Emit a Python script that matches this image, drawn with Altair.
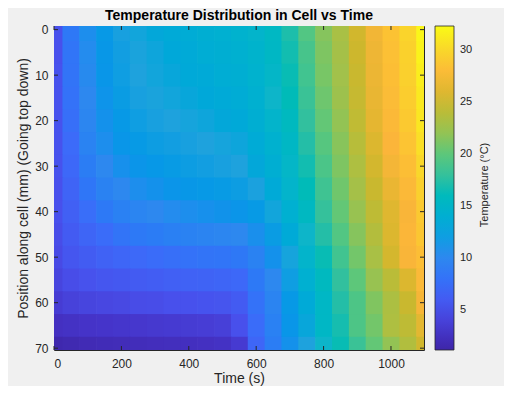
import altair as alt
import pandas as pd

# ---- data -----------------------------------------------------------------
times = [0, 50, 100, 150, 200, 250, 300, 350, 400, 450, 500, 550,
         600, 650, 700, 750, 800, 850, 900, 950, 1000, 1050, 1100]
positions = [0, 5, 10, 15, 20, 25, 30, 35, 40, 45, 50, 55, 60, 65, 70]

row_p00 = [5.0, 8.5, 10.5, 11.5, 12.3, 12.8, 13.1, 13.4, 13.7, 14.0, 14.2, 14.5, 14.8, 15.5, 17.0, 19.5, 21.5, 23.0, 25.2, 27.0, 28.5, 29.8, 32.0]
row_p05 = [5.0, 8.3, 10.3, 11.3, 12.1, 12.6, 12.9, 13.2, 13.5, 13.8, 14.0, 14.3, 14.7, 15.4, 16.7, 19.0, 21.2, 22.8, 25.0, 26.8, 28.3, 29.6, 31.8]
row_p10 = [5.2, 8.2, 10.2, 11.2, 12.0, 12.5, 12.8, 13.0, 13.3, 13.5, 13.8, 14.0, 14.5, 15.2, 16.5, 18.7, 21.0, 22.6, 24.8, 26.7, 28.2, 29.5, 31.5]
row_p15 = [5.2, 8.0, 10.0, 11.0, 11.8, 12.3, 12.6, 12.8, 13.0, 13.2, 13.5, 13.7, 14.3, 15.0, 16.2, 18.3, 20.6, 22.4, 24.6, 26.5, 28.0, 29.3, 31.2]
row_p20 = [5.2, 7.8, 9.8, 10.8, 11.5, 12.0, 12.3, 12.5, 12.7, 12.9, 13.1, 13.3, 14.0, 14.8, 15.8, 17.8, 20.2, 22.0, 24.3, 26.3, 27.8, 29.0, 31.0]
row_p25 = [5.2, 7.5, 9.5, 10.5, 11.2, 11.6, 11.9, 12.1, 12.3, 12.5, 12.7, 12.9, 13.6, 14.4, 15.4, 17.2, 19.7, 21.6, 23.8, 25.8, 27.5, 28.6, 30.5]
row_p30 = [5.2, 7.2, 9.0, 10.0, 10.7, 11.1, 11.4, 11.7, 11.9, 12.1, 12.3, 12.5, 13.1, 14.0, 15.2, 16.7, 19.2, 21.2, 23.3, 25.3, 27.1, 28.2, 30.0]
row_p35 = [5.0, 6.8, 8.4, 9.4, 10.0, 10.5, 10.8, 11.1, 11.3, 11.5, 11.7, 11.9, 12.4, 13.5, 14.8, 16.2, 18.6, 20.7, 22.8, 24.8, 26.6, 27.8, 29.5]
row_p40 = [5.0, 6.4, 7.7, 8.6, 9.3, 9.7, 10.0, 10.3, 10.5, 10.7, 10.9, 11.1, 11.6, 12.8, 14.2, 15.6, 18.0, 20.2, 22.2, 24.2, 26.0, 27.4, 29.0]
row_p45 = [4.8, 6.0, 6.9, 7.6, 8.2, 8.6, 8.9, 9.2, 9.4, 9.6, 9.8, 10.0, 10.6, 11.8, 13.4, 15.0, 17.2, 19.5, 21.5, 23.6, 25.8, 27.6, 28.8]
row_p50 = [4.6, 5.5, 6.1, 6.6, 7.0, 7.3, 7.6, 7.8, 8.0, 8.2, 8.3, 8.5, 9.4, 10.8, 12.7, 14.8, 16.5, 18.7, 20.8, 23.0, 25.4, 27.4, 28.2]
row_p55 = [4.2, 4.8, 5.2, 5.5, 5.7, 6.0, 6.2, 6.4, 6.6, 6.7, 6.9, 7.2, 8.6, 10.0, 12.0, 14.2, 15.8, 17.8, 20.0, 22.2, 24.0, 25.8, 27.8]
row_p60 = [3.6, 4.0, 4.2, 4.4, 4.5, 4.7, 4.8, 5.0, 5.1, 5.3, 5.4, 6.0, 8.0, 9.6, 11.5, 13.5, 15.3, 17.2, 19.3, 21.3, 23.2, 24.8, 27.2]
row_p65 = [2.6, 2.8, 3.0, 3.1, 3.2, 3.3, 3.4, 3.5, 3.6, 3.7, 3.9, 5.0, 7.6, 9.3, 11.2, 13.0, 15.3, 16.8, 19.3, 20.8, 23.3, 24.2, 26.2]
row_p70 = [1.5, 1.7, 1.9, 2.0, 2.1, 2.2, 2.3, 2.4, 2.5, 2.6, 2.8, 3.5, 7.0, 9.0, 10.8, 12.5, 15.0, 16.5, 18.3, 20.2, 22.0, 23.5, 25.2]

rows = [row_p00, row_p05, row_p10, row_p15, row_p20, row_p25, row_p30, row_p35,
        row_p40, row_p45, row_p50, row_p55, row_p60, row_p65, row_p70]

x_ticks = [0, 200, 400, 600, 800, 1000]
y_ticks = [0, 10, 20, 30, 40, 50, 60, 70]
cbar_ticks = [5, 10, 15, 20, 25, 30]
cbar_title = ["Temperature (°C)"]

# parula-like colormap stops (temperature -> colour)
stop_temps = [1.15, 3, 5, 7.5, 10, 12.5, 15, 17.5, 20, 22.5, 25, 27.5, 30, 32.3]
stop_colors = ["#3e26a8", "#4533c8", "#4850ec", "#3c6bf9", "#2d88ef", "#1ea2dd",
               "#0db5c9", "#2ebfa2", "#5dc77a", "#a0c14c", "#cdb72d", "#fbb53a",
               "#f9d72a", "#f9fb15"]

# ---- build table -----------------------------------------------------------
dt = times[1] - times[0]
dp = positions[1] - positions[0]
ov = 0.04  # tiny overlap of neighbouring cells to hide anti-aliasing seams
records = []
for p, row in zip(positions, rows):
    for t, v in zip(times, row):
        records.append({"t0": t - dt / 2, "t1": t + dt / 2 + dt * ov,
                        "p0": p - dp / 2, "p1": p + dp / 2 + dp * ov, "temp": v})
df = pd.DataFrame(records)

W, H = 370, 324
FONT = "Liberation Sans"
TXT = "#262626"

xscale = alt.Scale(domain=[0, 1098], nice=False, zero=False)
yscale = alt.Scale(domain=[-0.8, 70.4], nice=False, zero=False, reverse=True)
cscale = alt.Scale(domain=stop_temps, range=stop_colors)

heat = alt.Chart(df).mark_rect(clip=True, strokeWidth=0).encode(
    x=alt.X("t0:Q", scale=xscale,
            axis=alt.Axis(title="Time (s)", values=x_ticks, ticks=False, domain=False,
                          grid=False, labelPadding=8, titlePadding=2, format="d")),
    x2="t1:Q",
    y=alt.Y("p0:Q", scale=yscale,
            axis=alt.Axis(title="Position along cell (mm) (Going top down)",
                          values=y_ticks, ticks=False, domain=False, grid=False,
                          labelPadding=6, titlePadding=4, format="d")),
    y2="p1:Q",
    color=alt.Color("temp:Q", scale=cscale,
                    legend=alt.Legend(title=None, orient="none", legendX=381, legendY=0,
                                      type="gradient",
                                      direction="vertical", gradientLength=H,
                                      gradientThickness=19, values=cbar_ticks,
                                      labelFontSize=11, labelOffset=6, labelColor=TXT,
                                      labelFont=FONT, gradientStrokeColor=TXT,
                                      gradientStrokeWidth=0.8, padding=0,
                                      labelOverlap=False)),
)

xt = pd.DataFrame({"v": x_ticks})
yt = pd.DataFrame({"v": y_ticks})

xtick_bot = alt.Chart(xt).mark_rule(color=TXT, strokeWidth=1).encode(
    x=alt.X("v:Q", scale=xscale), y=alt.value(H), y2=alt.value(H - 4))
xtick_top = alt.Chart(xt).mark_rule(color=TXT, strokeWidth=1).encode(
    x=alt.X("v:Q", scale=xscale), y=alt.value(0), y2=alt.value(4))
ytick_left = alt.Chart(yt).mark_rule(color=TXT, strokeWidth=1).encode(
    y=alt.Y("v:Q", scale=yscale), x=alt.value(0), x2=alt.value(4))
ytick_right = alt.Chart(yt).mark_rule(color=TXT, strokeWidth=1).encode(
    y=alt.Y("v:Q", scale=yscale), x=alt.value(W - 4), x2=alt.value(W))

cbar_label = alt.Chart(pd.DataFrame({"s": cbar_title})).mark_text(
    angle=270, fontSize=11, font=FONT, color=TXT, align="center", baseline="middle"
).encode(text="s:N", x=alt.value(431), y=alt.value(H / 2 - 3))

chart = alt.layer(heat, xtick_bot, xtick_top, ytick_left, ytick_right, cbar_label).properties(
    width=W, height=H,
    title=alt.TitleParams("Temperature Distribution in Cell vs Time", fontSize=14,
                          font=FONT, fontWeight="bold", color="#000000", offset=1,
                          anchor="middle"),
    autosize=alt.AutoSizeParams(type="none"),
    padding={"left": 46, "top": 18, "right": 80, "bottom": 36},
).configure(background="#f0f0f0").configure_view(
    stroke=TXT, strokeWidth=1
).configure_axis(
    labelFont=FONT, labelFontSize=12, labelColor=TXT,
    titleFont=FONT, titleFontSize=14, titleColor=TXT, titleFontWeight="normal"
)

chart.save("out.html", embed_options={"renderer": "svg", "actions": False})
